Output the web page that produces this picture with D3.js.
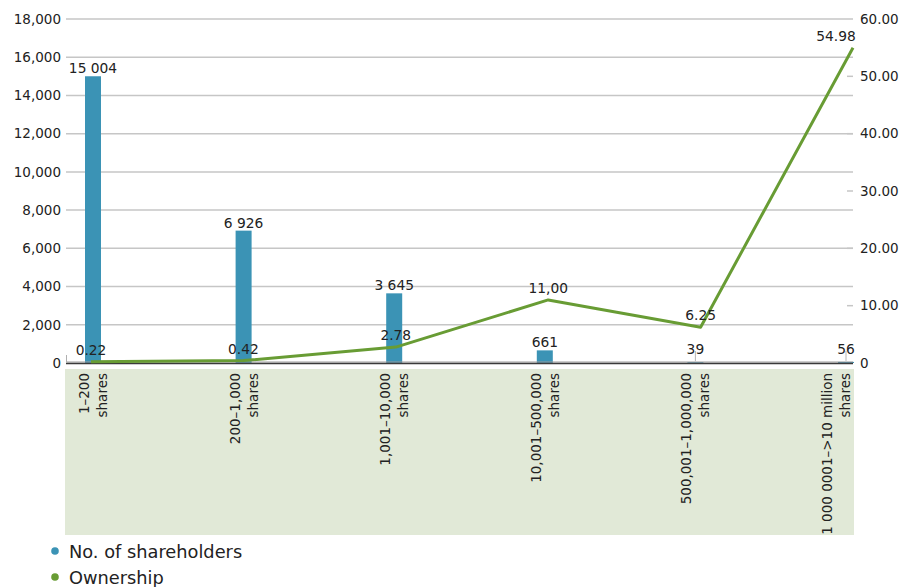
<!DOCTYPE html>
<html>
<head>
<meta charset="utf-8">
<script src="https://cdn.jsdelivr.net/npm/d3@7"></script>
<style>
  html, body { margin: 0; padding: 0; background: #fff; }
  svg { display: block; font-family: "DejaVu Sans", Verdana, sans-serif; }
</style>
</head>
<body>
<svg id="chart" width="910" height="587"></svg>
<script>
// Shareholding structure: number of shareholders per size band and their ownership share (%)
const categories = [
  ["1–200", "shares"],
  ["200–1,000", "shares"],
  ["1,001–10,000", "shares"],
  ["10,001–500,000", "shares"],
  ["500,001–1,000,000", "shares"],
  ["1 000 0001–>10 million", "shares"]
];
const shareholders = [15004, 6926, 3645, 661, 39, 56];
const shareholderLabels = ["15 004", "6 926", "3 645", "661", "39", "56"];
const ownership = [0.22, 0.42, 2.78, 11.00, 6.25, 54.98];
const ownershipLabels = ["0.22", "0.42", "2.78", "11,00", "6.25", "54.98"];
const leftTicks = [0, 2000, 4000, 6000, 8000, 10000, 12000, 14000, 16000, 18000];
const rightTicks = [0, 10, 20, 30, 40, 50, 60];
const legendItems = [
  { name: "No. of shareholders", color: "#3b93b5" },
  { name: "Ownership", color: "#689c34" }
];

const BLUE = "#3b93b5", GREEN = "#689c34", TEXT = "#222";
const svg = d3.select("#chart");
const plot = { left: 66, right: 853, top: 19, bottom: 363 };

const keys = categories.map((c, i) => i);
const yLeft = d3.scaleLinear().domain([0, 18000]).range([plot.bottom, plot.top]);
const yRight = d3.scaleLinear().domain([0, 60]).range([plot.bottom, plot.top]);
const xBar = d3.scalePoint().domain(keys).range([93, 846]);
const xLine = d3.scalePoint().domain(keys).range([91, 853]);

// category band background
svg.append("rect")
  .attr("x", 65).attr("y", 369)
  .attr("width", 789).attr("height", 166)
  .attr("fill", "#e1e9d7");

// horizontal grid
svg.append("g").selectAll("line").data(leftTicks.slice(1)).join("line")
  .attr("x1", plot.left).attr("x2", plot.right)
  .attr("y1", d => yLeft(d)).attr("y2", d => yLeft(d))
  .attr("stroke", "#c6c6c6").attr("stroke-width", 1.5);

// left axis
const gl = svg.append("g").attr("transform", `translate(${plot.left},0)`)
  .call(d3.axisLeft(yLeft).tickValues(leftTicks).tickSize(0).tickPadding(5)
    .tickFormat(d3.format(",")));
gl.select(".domain").remove();
gl.selectAll("text").attr("font-size", 13.5).attr("fill", TEXT)
  .attr("font-family", "DejaVu Sans");

// right axis
const gr = svg.append("g").attr("transform", `translate(${plot.right},0)`)
  .call(d3.axisRight(yRight).tickValues(rightTicks).tickSize(0).tickPadding(7)
    .tickFormat(d => d === 0 ? "0" : d3.format(".2f")(d)));
gr.select(".domain").remove();
gr.selectAll("text").attr("font-size", 13.5).attr("fill", TEXT)
  .attr("font-family", "DejaVu Sans");
svg.append("g").selectAll("line").data(rightTicks.slice(1, -1)).join("line")
  .attr("x1", plot.right - 6).attr("x2", plot.right)
  .attr("y1", d => yRight(d)).attr("y2", d => yRight(d))
  .attr("stroke", "#c6c6c6").attr("stroke-width", 1.5);

// bars
const barW = 16;
svg.append("g").selectAll("rect").data(shareholders).join("rect")
  .attr("x", (d, i) => xBar(i) - barW / 2)
  .attr("y", d => yLeft(d))
  .attr("width", barW)
  .attr("height", d => yLeft(0) - yLeft(d))
  .attr("fill", BLUE);

// baseline
svg.append("line")
  .attr("x1", plot.left).attr("x2", plot.right)
  .attr("y1", plot.bottom - 1).attr("y2", plot.bottom - 1)
  .attr("stroke", "#9a9a9a").attr("stroke-width", 1);
svg.append("line")
  .attr("x1", plot.left).attr("x2", plot.right)
  .attr("y1", plot.bottom + 0.5).attr("y2", plot.bottom + 0.5)
  .attr("stroke", "#3a3a3a").attr("stroke-width", 1.5);
svg.append("line")
  .attr("x1", plot.left + 0.5).attr("x2", plot.left + 0.5)
  .attr("y1", plot.bottom - 8).attr("y2", plot.bottom)
  .attr("stroke", "#b0b0b0").attr("stroke-width", 1);

// bar value labels, with leaders for bars too short to hold them
const minLabelY = yLeft(0) - 9;
const barLabel = svg.append("g");
shareholders.forEach((v, i) => {
  const top = yLeft(v);
  const ly = Math.min(top - 3, minLabelY);
  if (top - ly > 5) {
    barLabel.append("line")
      .attr("x1", xBar(i)).attr("x2", xBar(i))
      .attr("y1", ly - 3).attr("y2", top - 1)
      .attr("stroke", "#b5b5b5").attr("stroke-width", 1);
  }
  barLabel.append("text")
    .attr("x", xBar(i)).attr("y", ly)
    .attr("text-anchor", "middle").attr("font-size", 13.8)
    .attr("fill", TEXT).text(shareholderLabels[i]);
});

// ownership line
const line = d3.line().x((d, i) => xLine(i)).y(d => yRight(d));
svg.append("path").datum(ownership)
  .attr("d", line).attr("fill", "none")
  .attr("stroke", GREEN).attr("stroke-width", 3)
  .attr("stroke-linejoin", "round");

// ownership labels
svg.append("g").selectAll("text").data(ownership).join("text")
  .attr("x", (d, i) => Math.min(xLine(i), plot.right - 17))
  .attr("y", d => yRight(d) - 7)
  .attr("text-anchor", "middle").attr("font-size", 13.8)
  .attr("fill", TEXT)
  .text((d, i) => ownershipLabels[i]);

// category labels (rotated, two lines), kept inside the band
const cat = svg.append("g").selectAll("text").data(categories).join("text")
  .attr("transform", (d, i) =>
    `translate(${Math.min(xBar(i), plot.right - 17)},373) rotate(-90)`)
  .attr("text-anchor", "end").attr("font-size", 13.5).attr("fill", TEXT);
cat.append("tspan").attr("x", 0).attr("y", -9).attr("dominant-baseline", "central")
  .text(d => d[0]);
cat.append("tspan").attr("x", 0).attr("y", 9).attr("dominant-baseline", "central")
  .text(d => d[1]);

// legend
const lg = svg.append("g").selectAll("g").data(legendItems).join("g")
  .attr("transform", (d, i) => `translate(55,${551 + i * 26})`);
lg.append("circle").attr("r", 3.8).attr("fill", d => d.color);
lg.append("text").attr("x", 14).attr("y", 7).attr("font-size", 17.8)
  .attr("fill", TEXT).text(d => d.name);
</script>
</body>
</html>
